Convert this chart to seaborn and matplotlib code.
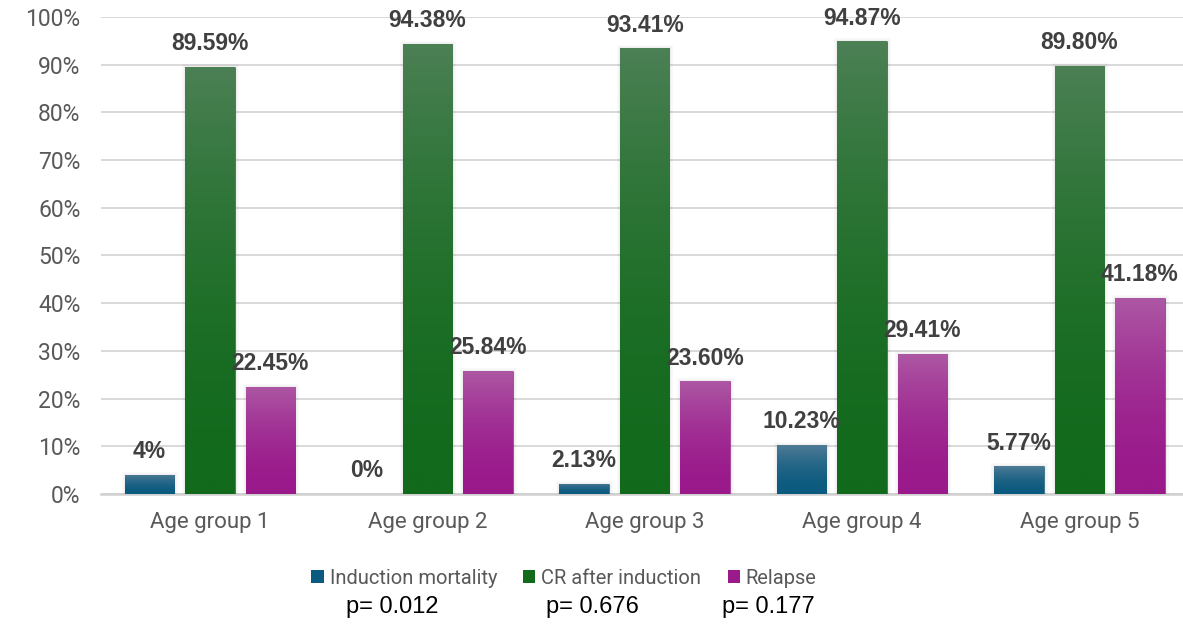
import numpy as np
import pandas as pd
import matplotlib
matplotlib.use("Agg")
import matplotlib.pyplot as plt
import matplotlib.patheffects as pe
from matplotlib.colors import LinearSegmentedColormap
from matplotlib.patches import Patch
from matplotlib.ticker import PercentFormatter
import seaborn as sns

# ---- data -------------------------------------------------------------
groups = ["Age group 1", "Age group 2", "Age group 3", "Age group 4", "Age group 5"]
series = ["Induction mortality", "CR after induction", "Relapse"]
induction_mortality = [4.0, 0.0, 2.13, 10.23, 5.77]
cr_after_induction = [89.59, 94.38, 93.41, 94.87, 89.80]
relapse = [22.45, 25.84, 23.60, 29.41, 41.18]
value_labels = [
    ["4%", "0%", "2.13%", "10.23%", "5.77%"],
    ["89.59%", "94.38%", "93.41%", "94.87%", "89.80%"],
    ["22.45%", "25.84%", "23.60%", "29.41%", "41.18%"],
]
p_values = ["p= 0.012", "p= 0.676", "p= 0.177"]

# (light top, dark bottom) for each series
gradients = [("#4f7b96", "#0b5a7f"), ("#4c8055", "#126a1c"), ("#ad58a4", "#9a198b")]

df = pd.DataFrame({
    "group": groups * 3,
    "series": np.repeat(series, len(groups)).tolist(),
    "value": induction_mortality + cr_after_induction + relapse,
})

# ---- figure -------------------------------------------------------------
sns.set_theme(style="white")
plt.rcParams["font.family"] = ["Roboto", "DejaVu Sans"]

W, H = 1183, 624
fig = plt.figure(figsize=(W / 100, H / 100), dpi=100)
left, right, bottom, top = 101.3, 1188.0, 494.0, 17.0
ax = fig.add_axes([left / W, 1 - bottom / H, (right - left) / W, (bottom - top) / H])

palette = [g[1] for g in gradients]
sns.barplot(data=df, x="group", y="value", hue="series", hue_order=series,
            order=groups, palette=palette, width=0.834, gap=0.18,
            saturation=1, ax=ax, legend=False, zorder=3,
            linewidth=0, edgecolor="none")

# gradient fill and soft edge shadow for every bar
for cont, (c_top, c_bot) in zip(ax.containers, gradients):
    cmap = LinearSegmentedColormap.from_list("g", [c_bot, c_top])
    for bar in cont:
        h = bar.get_height()
        if h <= 0:
            bar.set_visible(False)
            continue
        bar.set_path_effects([
            pe.Stroke(linewidth=5, foreground=(0, 0, 0, 0.025)),
            pe.Stroke(linewidth=2.5, foreground=(0, 0, 0, 0.045)),
            pe.Normal(),
        ])
        x0 = bar.get_x()
        x1 = x0 + bar.get_width()
        t = np.linspace(0, 1, 256)
        grad = (t ** 1.8).reshape(-1, 1)
        im = ax.imshow(grad, extent=[x0, x1, 0, h], origin="lower", aspect="auto",
                       cmap=cmap, vmin=0, vmax=1, zorder=3.5, interpolation="bilinear")
        im.set_clip_path(bar)

ax.set_xlim(-0.5, len(groups) - 0.5)
ax.set_ylim(0, 100)

# value labels above bars
for cont, labs in zip(ax.containers, value_labels):
    ax.bar_label(cont, labels=labs, padding=8.5, fontsize=16.5, fontweight="bold",
                 color="#404040", family=["Liberation Sans", "DejaVu Sans"], zorder=5)

# axes styling
ax.yaxis.set_major_formatter(PercentFormatter(decimals=0))
ax.set_yticks(np.arange(0, 101, 10))
ax.grid(axis="y", color="#d9d9d9", linewidth=1.4, zorder=0)
ax.set_axisbelow(True)
for s in ["top", "left", "right"]:
    ax.spines[s].set_visible(False)
ax.spines["bottom"].set_color("#d0d0d0")
ax.spines["bottom"].set_linewidth(1.8)
ax.tick_params(axis="y", length=0, pad=15, labelsize=16.5, labelcolor="#595959")
ax.tick_params(axis="x", length=0, pad=13, labelsize=16, labelcolor="#595959")
ax.set_xlabel("")
ax.set_ylabel("")

# legend
handles = [Patch(facecolor=g[1], edgecolor="none") for g in gradients]
fig.legend(handles, series, loc="center", bbox_to_anchor=(564 / W, 1 - 578 / H),
           ncol=3, frameon=False, fontsize=14.5, labelcolor="#595959",
           handlelength=0.6, handleheight=0.6, handletextpad=0.3,
           columnspacing=1.3, borderpad=0)

# p-values under the legend
for txt, xc in zip(p_values, [392, 592, 768]):
    fig.text(xc / W, 1 - 607 / H, txt, ha="center", va="center", fontsize=17,
             color="black", family=["Liberation Sans", "DejaVu Sans"])

fig.savefig("out.png", dpi=100)
